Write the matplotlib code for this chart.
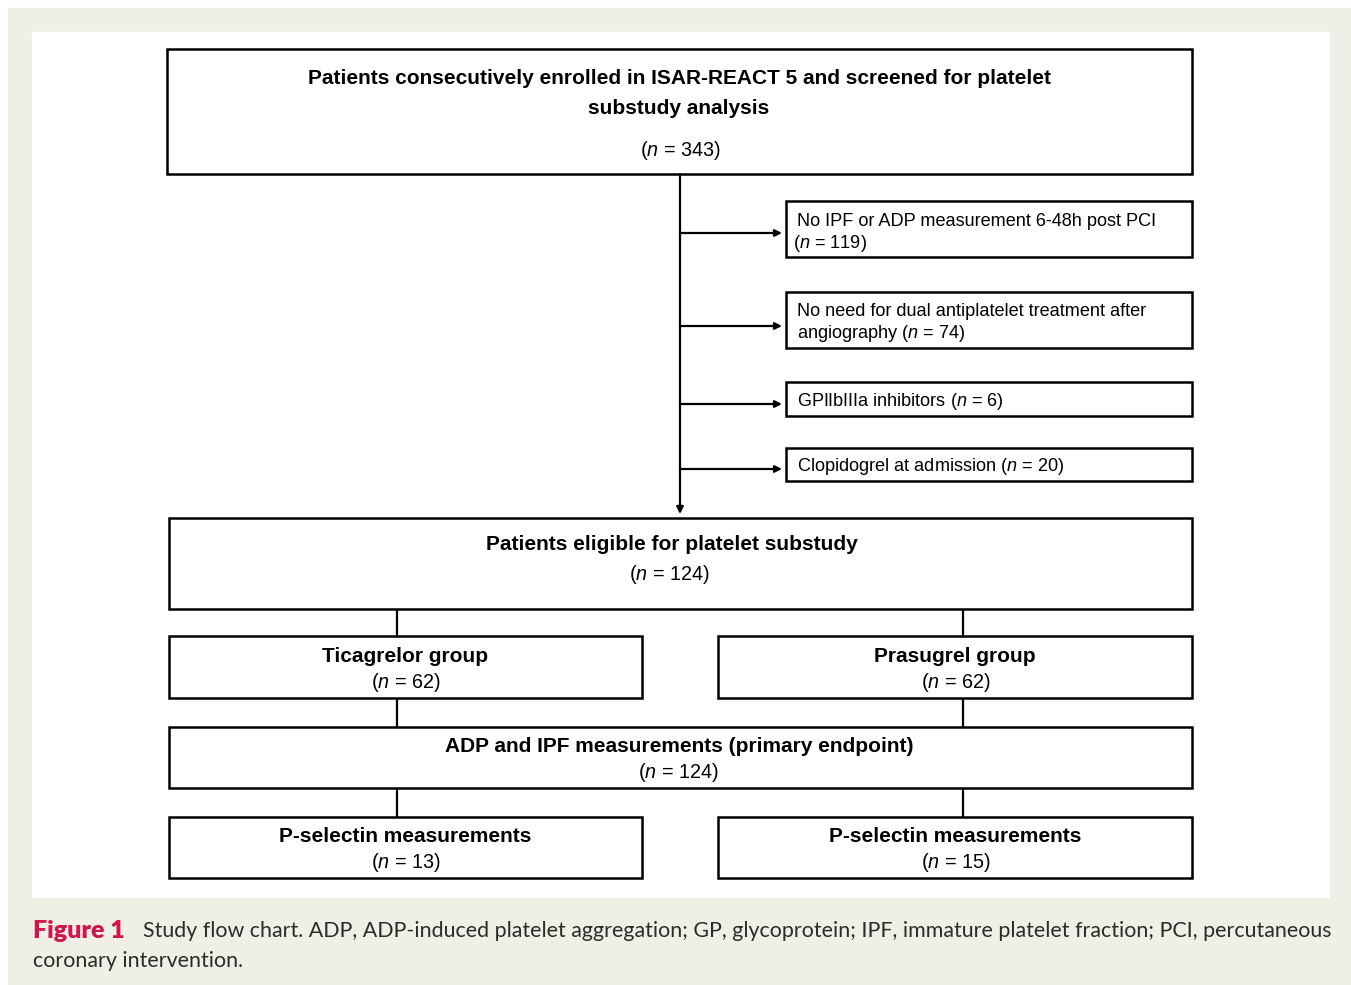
import matplotlib.pyplot as plt
from matplotlib.patches import Rectangle

plt.rcParams['font.family'] = ['Liberation Sans', 'DejaVu Sans']
plt.rcParams['mathtext.fontset'] = 'custom'
plt.rcParams['mathtext.it'] = 'Liberation Sans:italic'
plt.rcParams['mathtext.rm'] = 'Liberation Sans'

# flow chart content
top_title = ['Patients consecutively enrolled in ISAR-REACT 5 and screened for platelet',
             'substudy analysis']
top_n = 343
excl_lines = [['No IPF or ADP measurement 6-48h post PCI', ''],
              ['No need for dual antiplatelet treatment after', 'angiography '],
              ['GPIIbIIIa inhibitors ', None],
              ['Clopidogrel at admission ', None]]
excl_n = [119, 74, 6, 20]
eligible_title = 'Patients eligible for platelet substudy'
eligible_n = 124
groups = ['Ticagrelor group', 'Prasugrel group']
group_n = [62, 62]
primary_title = 'ADP and IPF measurements (primary endpoint)'
primary_n = 124
psel_title = 'P-selectin measurements'
psel_n = [13, 15]
caption_head = 'Figure 1'
caption_l1 = 'Study flow chart. ADP, ADP-induced platelet aggregation; GP, glycoprotein; IPF, immature platelet fraction; PCI, percutaneous'
caption_l2 = 'coronary intervention.'


def ntxt(n):
    return '($n$ = %d)' % n


fig = plt.figure(figsize=(13.51, 9.85), dpi=100)
ax = fig.add_axes([0, 0, 1, 1])
ax.set_xlim(0, 1351)
ax.set_ylim(985, 0)
ax.axis('off')

ax.add_patch(Rectangle((8, 8), 1342, 985, color='#efefe5', zorder=0))
ax.add_patch(Rectangle((32, 32), 1297, 865, color='white', zorder=1))

LW = 1.8
BS = 15.0   # bold size
RS = 13.1   # regular size
NS = 14.2   # size of the centred (n = ..) lines
DY = 2


def box(x0, y0, x1, y1):
    ax.add_patch(Rectangle((x0, y0), x1 - x0, y1 - y0, fill=False,
                           ec='black', lw=LW, zorder=3))


def line(xs, ys):
    ax.plot(xs, ys, color='black', lw=1.6, zorder=2, solid_capstyle='butt')


def arrow(x0, y0, x1, y1):
    ax.annotate('', xy=(x1, y1), xytext=(x0, y0),
                arrowprops=dict(arrowstyle='-|>', color='black', lw=1.6,
                                mutation_scale=10, shrinkA=0, shrinkB=0),
                zorder=2)


def txt(x, y, s, size, bold=False, ha='center'):
    ax.text(x, y + DY, s, ha=ha, va='center', fontsize=size,
            fontweight='bold' if bold else 'normal', zorder=4)


# top box
box(167, 49, 1192, 174)
txt(679, 76, top_title[0], BS, True)
txt(679, 107, top_title[1], BS, True)
txt(680, 149, ntxt(top_n), NS)

# main down arrow
arrow(680, 174, 680, 514)

# exclusions
ex_boxes = [(201, 257), (292, 348), (382, 416), (448, 481)]
ex_arrow_y = [233, 326, 404, 469]
for (y0, y1), ay, lines, n in zip(ex_boxes, ex_arrow_y, excl_lines, excl_n):
    box(786, y0, 1192, y1)
    arrow(680, ay, 782, ay)
    if lines[1] is None:
        txt(797, (y0 + y1) / 2, lines[0] + ntxt(n), RS, ha='left')
    else:
        txt(797, y0 + 18, lines[0], RS, ha='left')
        x2 = 793 if lines[1] == '' else 797
        txt(x2, y0 + 40, lines[1] + ntxt(n), RS, ha='left')

# eligible
box(169, 518, 1192, 609)
txt(672, 543, eligible_title, BS, True)
txt(669, 573, ntxt(eligible_n), NS)

left_x, right_x = 397, 963
for x in (left_x, right_x):
    line([x, x], [609, 636])
    line([x, x], [698, 727])
    line([x, x], [788, 817])

# groups
centers = [405, 955]
spans = [(169, 642), (718, 1192)]
for (x0, x1), cx, g, n in zip(spans, centers, groups, group_n):
    box(x0, 636, x1, 698)
    txt(cx, 655, g, BS, True)
    txt(cx + 1, 680, ntxt(n), NS)

# primary endpoint
box(169, 727, 1192, 788)
txt(679, 745, primary_title, BS, True)
txt(678, 770, ntxt(primary_n), NS)

# p-selectin
for (x0, x1), cx, n in zip(spans, centers, psel_n):
    box(x0, 817, x1, 878)
    txt(cx, 835, psel_title, BS, True)
    txt(cx + 1, 860, ntxt(n), NS)

# caption
ax.text(33, 931, caption_head, ha='left', va='center', fontsize=18, fontweight='heavy',
        color='#d0174a', family='Lato', zorder=4)
ax.text(143, 931, caption_l1, ha='left', va='center', fontsize=15.4,
        color='#2b2b2b', family='Lato', zorder=4)
ax.text(33, 961, caption_l2, ha='left', va='center', fontsize=15.4,
        color='#2b2b2b', family='Lato', zorder=4)

fig.savefig('out.png', dpi=100, facecolor='white')
